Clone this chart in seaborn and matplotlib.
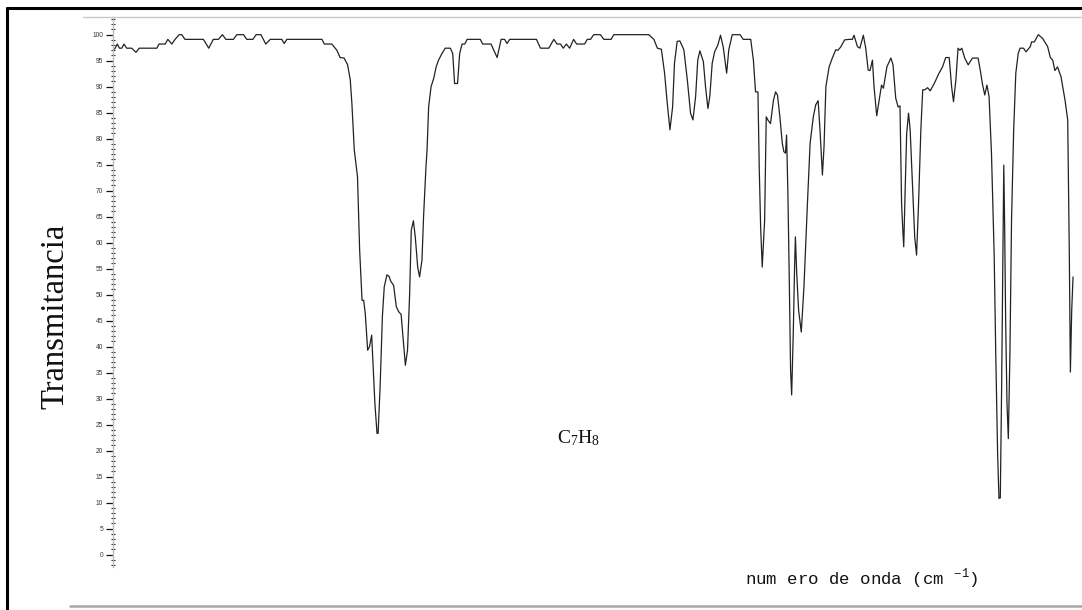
import numpy as np
import pandas as pd
import matplotlib
matplotlib.use("Agg")
import matplotlib.pyplot as plt
from matplotlib.ticker import MultipleLocator
from matplotlib.lines import Line2D
import seaborn as sns

# IR spectrum of toluene (C7H8): wavenumber (cm-1) and transmittance (%)
wavenumber = [
    4000, 3992, 3984, 3976, 3967, 3959, 3949, 3930, 3914, 3902, 3836, 3828, 3805, 3795,
    3780, 3768, 3753, 3743, 3731, 3662, 3642, 3625, 3606, 3591, 3578, 3550, 3537, 3512,
    3500, 3477, 3465, 3447, 3429, 3412, 3369, 3360, 3350, 3219, 3210, 3182, 3163, 3151,
    3136, 3123, 3113, 3107, 3098, 3086, 3078, 3069, 3063, 3057, 3048, 3041, 3033, 3028,
    3021, 3013, 3009, 3001, 2993, 2986, 2976, 2968, 2961, 2951, 2941, 2932, 2923, 2916,
    2907, 2899, 2891, 2885, 2877, 2870, 2861, 2854, 2845, 2839, 2830, 2826, 2820, 2811,
    2801, 2792, 2783, 2770, 2758, 2739, 2730, 2723, 2712, 2704, 2695, 2685, 2676, 2627,
    2618, 2587, 2564, 2549, 2536, 2527, 2517, 2417, 2402, 2371, 2352, 2340, 2327, 2317,
    2305, 2293, 2278, 2267, 2237, 2227, 2215, 2203, 2178, 2165, 2138, 2128, 1997, 1978,
    1965, 1950, 1938, 1928, 1918, 1908, 1901, 1891, 1881, 1866, 1853, 1841, 1832, 1822,
    1814, 1806, 1793, 1785, 1776, 1769, 1760, 1751, 1739, 1729, 1719, 1706, 1698, 1685,
    1656, 1644, 1616, 1606, 1598, 1589, 1584, 1579, 1573, 1564, 1558, 1552, 1542, 1531,
    1523, 1516, 1507, 1498, 1492, 1486, 1482, 1477, 1472, 1467, 1463, 1457, 1452, 1449,
    1444, 1437, 1427, 1417, 1404, 1394, 1382, 1373, 1364, 1357, 1348, 1342, 1335, 1323,
    1311, 1298, 1290, 1280, 1265, 1248, 1236, 1230, 1217, 1208, 1195, 1186, 1177, 1170,
    1161, 1155, 1145, 1136, 1127, 1120, 1107, 1092, 1084, 1074, 1065, 1058, 1052, 1048,
    1044, 1039, 1033, 1026, 1020, 1011, 1003, 996, 989, 980, 973, 965, 955, 945,
    930, 912, 899, 887, 874, 865, 858, 849, 841, 834, 827, 816, 803, 787,
    766, 758, 749, 741, 733, 725, 716, 706, 700, 693, 688, 683, 678, 673,
    670, 667, 663, 658, 653, 647, 641, 633, 625, 616, 609, 596, 587, 571,
    566, 556, 541, 525, 506, 496, 487, 479, 469, 456, 441, 431, 425, 421,
    416, 411,
]
transmittance = [
    97.0, 97.4, 98.2, 97.4, 97.4, 98.2, 97.4, 97.4, 96.6, 97.4, 97.4, 98.2, 98.2, 99.1,
    98.2, 99.1, 100.0, 100.0, 99.1, 99.1, 97.4, 99.1, 99.1, 100.0, 99.1, 99.1, 100.0, 100.0,
    99.1, 99.1, 100.0, 100.0, 98.2, 99.1, 99.1, 98.3, 99.1, 99.1, 98.2, 98.2, 97.0, 95.6,
    95.5, 94.2, 91.3, 86.8, 77.8, 72.7, 58.6, 48.9, 48.9, 46.4, 39.3, 40.0, 42.2, 36.8,
    29.1, 23.3, 23.3, 32.9, 45.7, 51.5, 53.8, 53.5, 52.5, 51.8, 47.7, 46.7, 46.2, 41.9,
    36.4, 39.3, 50.2, 62.4, 64.2, 61.1, 55.3, 53.4, 56.6, 65.0, 74.6, 77.8, 86.1, 90.0,
    91.6, 93.8, 95.1, 96.4, 97.4, 97.4, 96.4, 90.6, 90.6, 96.4, 98.2, 98.2, 99.1, 99.1,
    98.2, 98.2, 95.6, 99.1, 99.1, 98.3, 99.1, 99.1, 97.4, 97.4, 99.1, 98.2, 98.2, 97.4,
    98.2, 97.4, 99.1, 98.2, 98.2, 99.1, 99.1, 100.0, 100.0, 99.1, 99.1, 100.0, 100.0, 99.1,
    97.4, 97.2, 92.6, 86.8, 81.7, 86.1, 94.5, 98.7, 98.8, 97.1, 91.3, 84.9, 83.6, 88.1,
    95.1, 96.9, 94.8, 90.0, 85.8, 88.1, 94.5, 96.7, 98.0, 99.9, 97.7, 92.6, 97.1, 100.0,
    100.0, 99.1, 99.1, 95.1, 89.0, 89.0, 74.0, 63.1, 55.3, 64.3, 84.2, 83.6, 82.9, 87.4,
    89.0, 88.4, 84.2, 79.1, 77.5, 77.2, 80.7, 69.5, 53.4, 35.5, 30.7, 42.5, 55.3, 61.1,
    54.1, 47.0, 42.8, 51.5, 67.5, 79.1, 84.2, 86.5, 87.3, 81.7, 73.0, 78.4, 90.0, 93.8,
    95.5, 97.1, 97.0, 97.6, 99.0, 99.1, 99.1, 99.9, 97.7, 97.4, 99.9, 97.4, 93.2, 93.1,
    95.1, 90.0, 84.4, 87.4, 90.3, 89.7, 93.8, 95.5, 94.2, 87.8, 86.1, 86.3, 67.5, 63.0,
    59.2, 69.5, 81.0, 84.9, 81.7, 70.7, 61.1, 57.6, 66.9, 81.7, 89.4, 89.4, 89.8, 89.2,
    90.6, 92.6, 93.8, 95.6, 95.6, 90.0, 87.1, 91.3, 97.4, 97.0, 97.4, 95.5, 94.2, 95.5,
    95.5, 93.2, 90.3, 88.4, 90.3, 88.1, 77.2, 57.9, 38.7, 19.4, 10.8, 10.9, 32.3, 57.9,
    74.9, 64.3, 45.1, 29.1, 22.3, 38.7, 64.3, 81.7, 92.6, 96.4, 97.4, 97.4, 96.7, 97.7,
    98.6, 98.6, 100.0, 99.3, 97.7, 95.6, 95.1, 93.1, 93.8, 91.9, 87.4, 83.6, 57.9, 35.1,
    47.0, 53.4,
]
y_ticks = list(range(0, 101, 5))

spectrum = pd.DataFrame({"wavenumber": wavenumber, "transmittance": transmittance})

sns.set_style("white")
plt.rcParams["font.family"] = ["DejaVu Sans"]

W, H = 1082, 610
fig = plt.figure(figsize=(W / 100, H / 100), dpi=100)
ax = fig.add_axes([113 / W, 1 - 567 / H, (1076 - 113) / W, (567 - 17) / H])

sns.lineplot(data=spectrum, x="wavenumber", y="transmittance", ax=ax,
             color="#222222", linewidth=0.9, sort=False, estimator=None)

ax.set_xlim(4000, 400)
ax.set_ylim(-2.4, 103.4)
ax.set_xticks([])
ax.set_yticks(y_ticks)
ax.set_yticklabels([str(t) for t in y_ticks], fontsize=4.8, color="#333333",
                   family="Liberation Sans")
ax.yaxis.set_minor_locator(MultipleLocator(1))
ax.tick_params(axis="y", which="major", direction="out", length=5, width=0.9,
               color="#111111", pad=2, left=True)
ax.tick_params(axis="y", which="minor", direction="inout", length=3, width=0.8,
               color="#222222", left=True)
ax.set_xlabel("")
ax.set_ylabel("")
for side in ("top", "right", "bottom"):
    ax.spines[side].set_visible(False)
ax.spines["left"].set_color("#bbbbbb")
ax.spines["left"].set_linewidth(1.0)
ax.patch.set_alpha(0)

# Axis titles and compound label
fig.text(55 / W, 1 - 316 / H, "Transmitancia", rotation=90, ha="center", va="center",
         fontsize=23.5, family="Liberation Serif", color="#111111")
fig.text(578 / W, 1 - 438 / H, r"$\mathregular{C_7H_8}$", ha="center", va="center",
         fontsize=14, family="Liberation Serif", color="#111111")
fig.text(978 / W, 1 - 585 / H, r"num ero de onda (cm $^{\mathregular{-1}}$)",
         ha="right", va="baseline", fontsize=12.5, family="Liberation Mono",
         color="#111111")

# Page frame lines
fig.add_artist(Line2D([7 / W, 7 / W], [0, 1 - 8 / H], transform=fig.transFigure,
                      color="black", linewidth=2.2))
fig.add_artist(Line2D([7 / W, 1], [1 - 8 / H, 1 - 8 / H], transform=fig.transFigure,
                      color="black", linewidth=2.2))
fig.add_artist(Line2D([83 / W, 1], [1 - 17 / H, 1 - 17 / H], transform=fig.transFigure,
                      color="#c8c8c8", linewidth=1.0))
fig.add_artist(Line2D([70 / W, 1], [1 - 606 / H, 1 - 606 / H], transform=fig.transFigure,
                      color="#a8a8a8", linewidth=1.8))

fig.savefig("out.png", dpi=100)
